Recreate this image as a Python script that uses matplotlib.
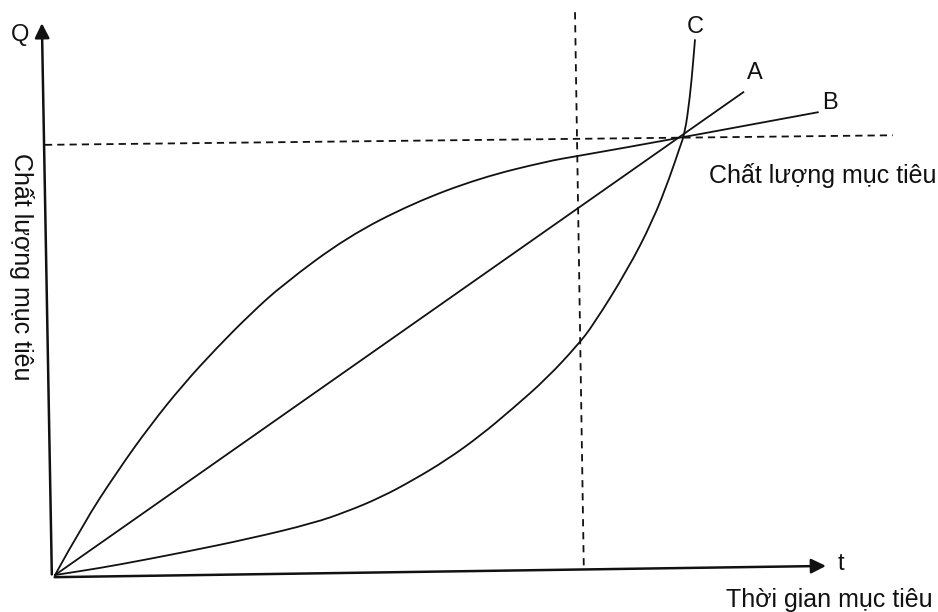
import matplotlib.pyplot as plt
from matplotlib.path import Path
from matplotlib.patches import PathPatch

plt.rcParams['font.family'] = ['Liberation Sans', 'DejaVu Sans']

# curves; target point (thoi gian, chat luong) = (1, 1)
a_t = [0.0, 1.096]
a_q = [0.0, 1.11]

b_t = [0.0, 0.045, 0.099, 0.151, 0.204, 0.258, 0.311, 0.363, 0.465, 0.570,
       0.677, 0.783, 0.831, 0.995, 1.215]
b_q = [0.0, 0.118, 0.238, 0.343, 0.438, 0.523, 0.600, 0.668, 0.777, 0.855,
       0.913, 0.951, 0.963, 1.005, 1.064]

c_t = [0.0, 0.045, 0.099, 0.204, 0.311, 0.411, 0.465, 0.518, 0.570, 0.624,
       0.677, 0.729, 0.783, 0.833, 0.857, 0.911, 0.952, 0.979, 0.995, 1.003,
       1.011, 1.016, 1.019]
c_q = [0.0, 0.010, 0.023, 0.052, 0.084, 0.119, 0.146, 0.178, 0.218, 0.265,
       0.320, 0.383, 0.452, 0.530, 0.575, 0.700, 0.815, 0.915, 0.984, 1.016,
       1.099, 1.177, 1.230]

# guide lines (scan is a little tilted)
target_q_t = [-0.016, 1.334]
target_q_q = [0.989, 1.011]
deadline_t = [0.828, 0.842]
deadline_q = [1.294, 0.016]

curve_labels = ['A', 'B', 'C']
label_pos = [(1.115, 1.154), (1.234, 1.085), (1.019, 1.260)]

ink = '#111111'


def smooth_curve(ax, xs, ys):
    # quadratic bezier through midpoints, the read points act as controls
    pts = list(zip(xs, ys))
    verts = [pts[0]]
    codes = [Path.MOVETO]
    for i in range(1, len(pts) - 1):
        nxt = pts[i + 1] if i == len(pts) - 2 else (
            (pts[i][0] + pts[i + 1][0]) / 2, (pts[i][1] + pts[i + 1][1]) / 2)
        verts += [pts[i], nxt]
        codes += [Path.CURVE3, Path.CURVE3]
    ax.add_patch(PathPatch(Path(verts, codes), fill=False, edgecolor=ink,
                           lw=1.3, capstyle='round'))


fig = plt.figure(figsize=(9.38, 6.12), dpi=100)
ax = fig.add_axes([0, 0, 1, 1])
ax.set_xlim(-0.0876, 1.406)
ax.set_ylim(-0.085, 1.322)
ax.axis('off')

ax.plot(a_t, a_q, color=ink, lw=1.3)
smooth_curve(ax, b_t, b_q)
smooth_curve(ax, c_t, c_q)

ax.plot(target_q_t, target_q_q, color=ink, lw=1.3, linestyle=(0, (4, 2.8)))
ax.plot(deadline_t, deadline_q, color=ink, lw=1.3, linestyle=(0, (4, 3.2)))

# axes with arrows
ax.annotate('', xy=(-0.021, 1.275), xytext=(-0.005, -0.005),
            arrowprops=dict(arrowstyle='-|>', lw=1.8, color=ink, mutation_scale=22))
ax.annotate('', xy=(1.232, 0.021), xytext=(-0.005, -0.005),
            arrowprops=dict(arrowstyle='-|>', lw=1.8, color=ink, mutation_scale=22))

for lab, (x, y) in zip(curve_labels, label_pos):
    ax.text(x, y, lab, fontsize=17, ha='center', va='center', color=ink)

ax.text(-0.056, 1.241, 'Q', fontsize=17, ha='center', va='center', color=ink)
ax.text(1.252, 0.025, 't', fontsize=17, ha='center', va='center', color=ink)
ax.text(1.403, 0.901, 'Chất lượng mục tiêu', fontsize=18, ha='right',
        va='baseline', color=ink)
ax.text(1.398, -0.074, 'Thời gian mục tiêu', fontsize=18, ha='right',
        va='baseline', color=ink)
ax.text(-0.053, 0.708, 'Chất lượng mục tiêu', fontsize=18, rotation=-90,
        ha='center', va='center', color=ink)

fig.savefig('out.png', dpi=100, facecolor='white')
